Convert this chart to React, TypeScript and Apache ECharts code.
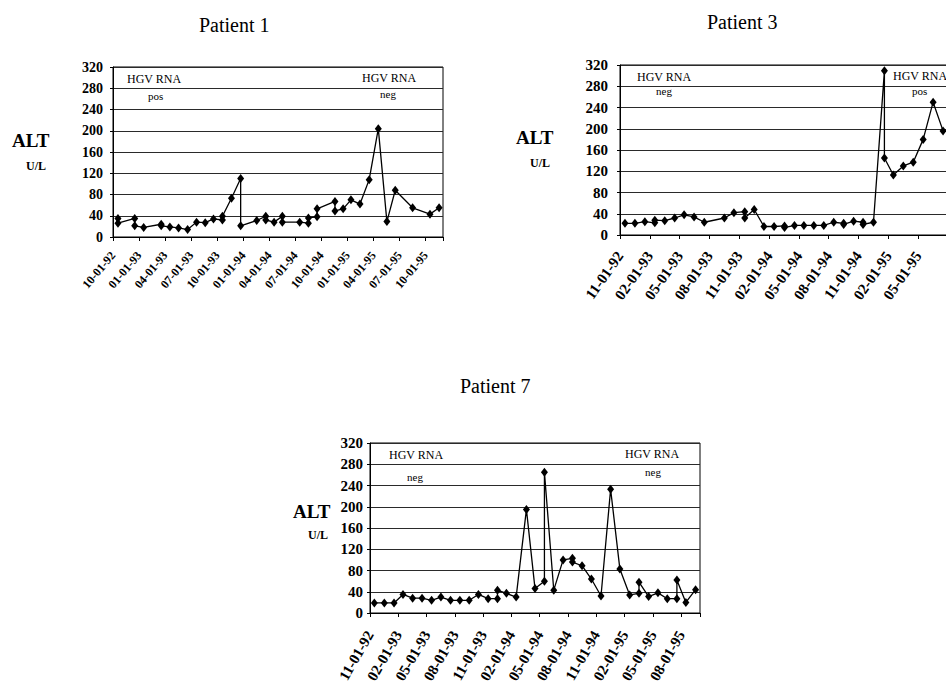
import React, { useEffect, useRef } from 'react';
import * as echarts from 'echarts';

// ---- Patient 1 (months since 10-01-92) ----
const p1Months = [0.57, 0.57, 2.5, 2.5, 3.53, 5.55, 5.55, 6.55, 7.55, 8.59, 9.62, 10.62, 11.57, 12.6, 12.6, 13.64, 14.7, 14.7, 16.55, 17.59, 17.59, 18.55, 19.5, 19.5, 21.5, 22.5, 22.5, 23.5, 23.5, 25.56, 25.56, 26.5, 27.4, 28.44, 29.5, 30.55, 31.54, 32.5, 34.5, 36.5, 37.55];
const p1Alt = [35, 26, 35, 21, 18, 24, 21, 19, 17, 14, 28, 27, 34, 32, 39, 73, 110, 21, 31, 39, 32, 28, 39, 28, 28, 26, 36, 38, 53, 67, 49, 53, 70, 62, 108, 204, 29, 88, 55, 43, 55];
const p1Ticks = ['10-01-92', '01-01-93', '04-01-93', '07-01-93', '10-01-93', '01-01-94', '04-01-94', '07-01-94', '10-01-94', '01-01-95', '04-01-95', '07-01-95', '10-01-95'];

// ---- Patient 3 (months since 11-01-92) ----
const p3Months = [0.5, 1.5, 2.5, 3.5, 3.5, 4.5, 5.5, 6.45, 7.45, 8.48, 10.5, 11.46, 12.55, 12.55, 13.5, 14.48, 15.5, 16.55, 16.55, 17.55, 18.5, 19.5, 20.5, 21.5, 22.5, 22.5, 23.5, 24.45, 24.45, 25.5, 26.6, 26.6, 27.5, 28.5, 29.5, 30.5, 31.5, 32.5];
const p3Alt = [22, 22, 25, 23, 28, 27, 32, 38, 34, 24, 32, 42, 44, 32, 48, 16, 16, 17, 14, 18, 18, 18, 18, 24, 22, 20, 26, 24, 20, 24, 309, 145, 113, 130, 137, 180, 250, 196];
const p3Ticks = ['11-01-92', '02-01-93', '05-01-93', '08-01-93', '11-01-93', '02-01-94', '05-01-94', '08-01-94', '11-01-94', '02-01-95', '05-01-95'];

// ---- Patient 7 (months since 11-01-92) ----
const p7Months = [0.46, 1.52, 2.55, 3.5, 4.52, 5.52, 6.53, 7.52, 8.54, 9.53, 10.52, 11.5, 12.53, 13.52, 13.52, 14.47, 15.5, 16.59, 17.5, 18.5, 18.5, 19.49, 20.48, 21.47, 21.47, 22.49, 23.48, 24.5, 25.52, 26.5, 27.54, 28.53, 28.53, 29.55, 30.54, 31.53, 32.55, 32.55, 33.5, 34.53];
const p7Alt = [19, 19, 19, 35, 28, 28, 24, 30, 24, 24, 24, 35, 27, 27, 43, 37, 30, 195, 46, 60, 265, 43, 100, 103, 96, 89, 64, 32, 233, 83, 34, 37, 58, 31, 38, 27, 27, 62, 20, 44];
const p7Ticks = ['11-01-92', '02-01-93', '05-01-93', '08-01-93', '11-01-93', '02-01-94', '05-01-94', '08-01-94', '11-01-94', '02-01-95', '05-01-95', '08-01-95'];

const SERIF = 'Liberation Serif';

function xAxisFor(gridIndex: number, max: number, ticks: string[], rotate: number, fontSize: number, margin: number) {
  return {
    type: 'value',
    gridIndex,
    min: 0,
    max,
    interval: 3,
    splitLine: { show: false },
    axisLine: { show: true, onZero: false, lineStyle: { color: '#000', width: 1 } },
    axisTick: { show: true, length: 4, lineStyle: { color: '#000' } },
    axisLabel: {
      rotate,
      margin,
      color: '#000',
      fontFamily: SERIF,
      fontWeight: 'bold',
      fontSize,
      formatter: (v: number) => {
        if (Math.abs(v % 3) > 1e-6) return '';
        return ticks[Math.round(v / 3)] ?? '';
      },
    },
  };
}

function yAxisFor(gridIndex: number, fontSize: number, margin: number) {
  return {
    type: 'value',
    gridIndex,
    min: 0,
    max: 320,
    interval: 40,
    splitLine: { show: true, lineStyle: { color: '#2a2a2a', width: 1.2 } },
    axisLine: { show: true, lineStyle: { color: '#000', width: 1 } },
    axisTick: { show: true, length: 3, lineStyle: { color: '#000' } },
    axisLabel: { margin, color: '#000', fontFamily: SERIF, fontWeight: 'bold', fontSize },
  };
}

function seriesFor(idx: number, months: number[], alt: number[]) {
  return {
    type: 'line',
    xAxisIndex: idx,
    yAxisIndex: idx,
    data: months.map((m, i) => [m, alt[i]]),
    symbol: 'diamond',
    symbolSize: [7, 9],
    showAllSymbol: true,
    clip: false,
    itemStyle: { color: '#000' },
    lineStyle: { color: '#000', width: 1.3 },
  };
}

function txt(x: number, y: number, text: string, size: number, bold = false) {
  return {
    type: 'text',
    x,
    y,
    style: {
      text,
      fill: '#000',
      fontFamily: SERIF,
      fontSize: size,
      fontWeight: bold ? 'bold' : 'normal',
      verticalAlign: 'middle',
      align: 'left',
    },
  };
}

export default function App() {
  const ref = useRef<HTMLDivElement>(null);
  useEffect(() => {
    if (!ref.current) return;
    const chart = echarts.init(ref.current, undefined, { renderer: 'svg' });
    const gridStyle = { show: true, borderColor: '#000', borderWidth: 1, backgroundColor: 'transparent' };
    chart.setOption({
      animation: false,
      backgroundColor: '#fff',
      grid: [
        { ...gridStyle, left: 113, top: 67, width: 330, height: 170 },
        { ...gridStyle, left: 620, top: 65, width: 333, height: 170 },
        { ...gridStyle, left: 370, top: 443, width: 330, height: 171 },
      ],
      xAxis: [
        xAxisFor(0, 38, p1Ticks, 50, 12, 16),
        xAxisFor(1, 33.5, p3Ticks, 55, 15, 18),
        xAxisFor(2, 35, p7Ticks, 60, 15, 19),
      ],
      yAxis: [yAxisFor(0, 14, 10), yAxisFor(1, 15, 12), yAxisFor(2, 15, 7)],
      series: [seriesFor(0, p1Months, p1Alt), seriesFor(1, p3Months, p3Alt), seriesFor(2, p7Months, p7Alt)],
      graphic: [
        txt(199, 25, 'Patient 1', 20),
        txt(707, 22, 'Patient 3', 20),
        txt(460, 386, 'Patient 7', 20),
        txt(12, 140, 'ALT', 19, true),
        txt(26, 166, 'U/L', 12, true),
        txt(516, 137, 'ALT', 19, true),
        txt(530, 163, 'U/L', 12, true),
        txt(293, 511, 'ALT', 19, true),
        txt(308, 535, 'U/L', 12, true),
        txt(127, 79, 'HGV RNA', 12),
        txt(148, 96, 'pos', 11),
        txt(362, 78, 'HGV RNA', 12),
        txt(380, 94, 'neg', 11),
        txt(637, 77, 'HGV RNA', 12),
        txt(656, 91, 'neg', 11),
        txt(893, 76, 'HGV RNA', 12),
        txt(912, 91, 'pos', 11),
        txt(389, 455, 'HGV RNA', 12),
        txt(407, 477, 'neg', 11),
        txt(625, 454, 'HGV RNA', 12),
        txt(645, 472, 'neg', 11),
      ],
    });
    return () => chart.dispose();
  }, []);
  return (
    <div style={{ position: 'fixed', left: 0, top: 0, width: 946, height: 686, overflow: 'hidden', background: '#fff' }}>
      <div ref={ref} style={{ position: 'absolute', left: 0, top: 0, width: 970, height: 686 }} />
    </div>
  );
}
